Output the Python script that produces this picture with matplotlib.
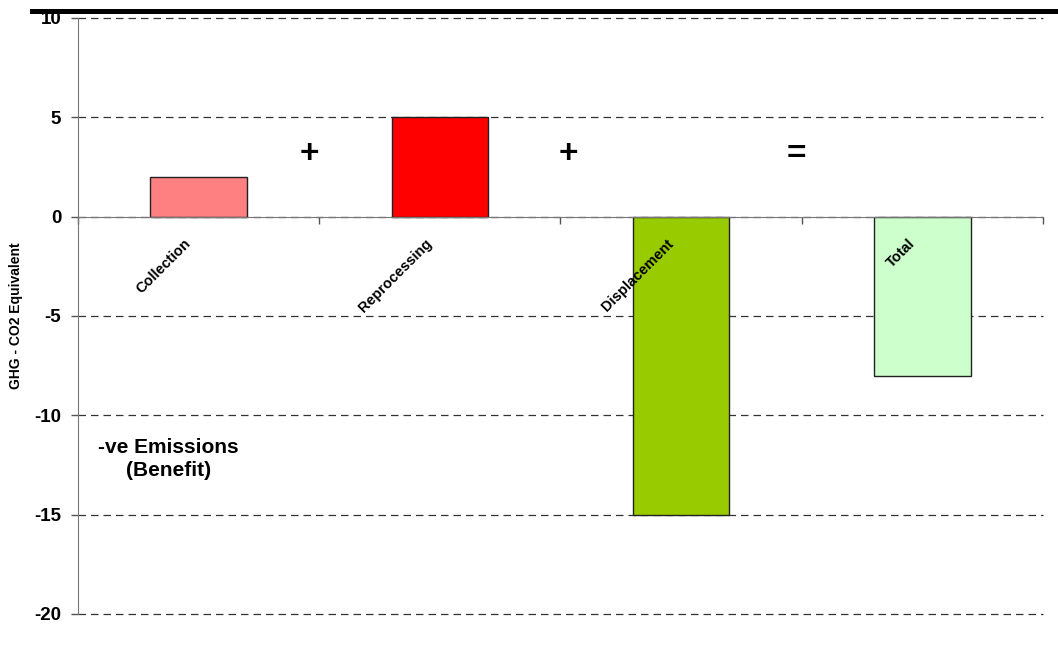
import matplotlib
matplotlib.use("Agg")
import matplotlib.pyplot as plt
from matplotlib.patches import Rectangle

# Greenhouse gas contributions per stage
categories = ["Collection", "Reprocessing", "Displacement", "Total"]
values = [2, 5, -15, -8]
colors = ["#FF8080", "#FF0000", "#99CC00", "#CCFFCC"]
yticks = [10, 5, 0, -5, -10, -15, -20]
operators = ["+", "+", "="]
operator_x = [0.458, 1.533, 2.479]

plt.rcParams["font.family"] = ["Liberation Sans", "DejaVu Sans"]
plt.rcParams["font.weight"] = "bold"

fig = plt.figure(figsize=(10.58, 6.52), dpi=100)
ax = fig.add_axes([0.0737, 0.0583, 0.9121, 0.9141])

x = list(range(len(categories)))
ax.bar(x, values, width=0.4, color=colors, edgecolor="#222222", linewidth=1.0, zorder=3)

ax.set_xlim(-0.5, len(categories) - 0.5)
ax.set_ylim(min(yticks), max(yticks))

# dashed horizontal gridlines
ax.set_yticks(yticks)
ax.set_yticklabels([str(v) for v in yticks], fontsize=13.5, fontweight="bold")
ax.yaxis.grid(True, linestyle=(0, (6, 4)), color="#333333", linewidth=0.9, zorder=0)
for gl in ax.get_ygridlines():
    gl.set_clip_on(False)
ax.tick_params(axis="y", direction="out", length=5, width=1, color="#555555", pad=7)

# category axis sits on zero with separators between groups
ax.spines["bottom"].set_position(("data", 0))
ax.spines["bottom"].set_color("#777777")
ax.spines["bottom"].set_zorder(4)
ax.spines["left"].set_color("#777777")
ax.spines["top"].set_visible(False)
ax.spines["right"].set_visible(False)
ax.set_xticks([i - 0.5 for i in range(len(categories) + 1)])
ax.set_xticklabels([])
ax.tick_params(axis="x", direction="out", length=5, width=1, color="#555555")

for xi, name in zip(x, categories):
    ax.text(xi - 0.02, -1.0, name, rotation=45, ha="right", va="top",
            fontsize=10.5, fontweight="bold", zorder=5)

ax.set_ylabel("GHG - CO2 Equivalent", fontsize=10, fontweight="bold")
ax.yaxis.set_label_coords(-0.057, 0.5)

# arithmetic signs between the stages
for xo, sym in zip(operator_x, operators):
    ax.text(xo, 3.12, sym, ha="center", va="center", fontsize=24, fontweight="bold")

ax.text(-0.124, -12.18, "-ve Emissions\n(Benefit)", ha="center", va="center",
        fontsize=15, fontweight="bold", linespacing=1.25)

# heavy rule across the top
fig.add_artist(Rectangle((0.0284, 0.9785), 1.0, 0.0077, transform=fig.transFigure,
                         facecolor="black", edgecolor="none", zorder=10))

fig.savefig("out.png", dpi=100)
